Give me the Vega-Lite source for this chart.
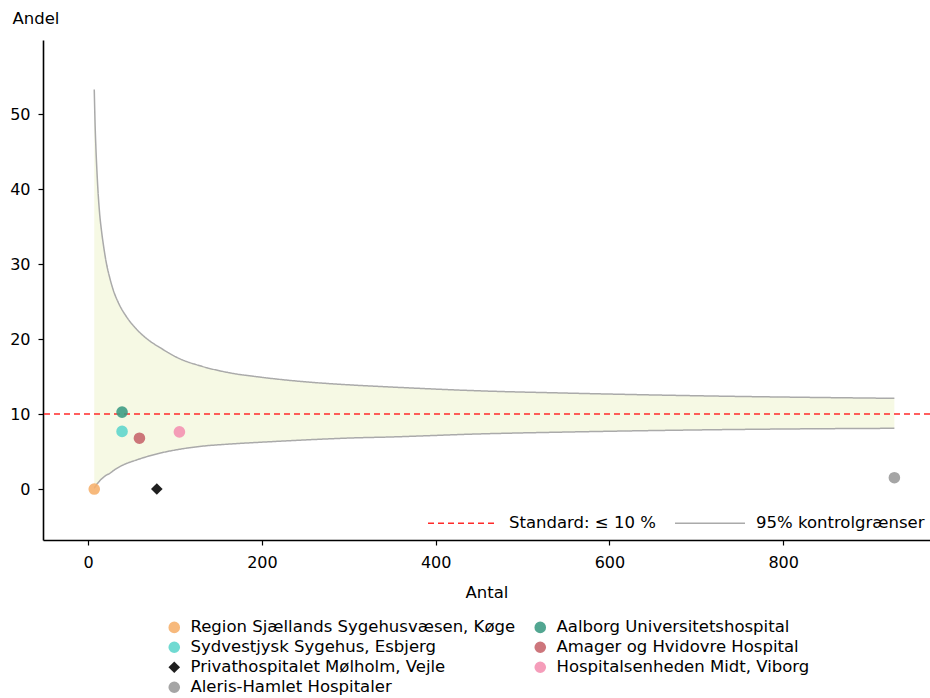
{
  "$schema": "https://vega.github.io/schema/vega-lite/v6.json",
  "width": 887,
  "height": 500,
  "autosize": "none",
  "padding": {"left": 43, "top": 40, "right": 0, "bottom": 158},
  "background": "white",
  "config": {
    "font": "DejaVu Sans",
    "view": {"stroke": null},
    "axis": {
      "grid": false,
      "domainColor": "black",
      "domainWidth": 1.6,
      "tickColor": "black",
      "tickWidth": 1.2,
      "tickSize": 5,
      "labelFont": "DejaVu Sans",
      "labelFontSize": 16,
      "labelColor": "black",
      "titleFont": "DejaVu Sans",
      "titleFontSize": 16.5,
      "titleFontWeight": "normal",
      "titleColor": "black"
    },
    "legend": {
      "labelFont": "DejaVu Sans",
      "labelFontSize": 16.5,
      "labelColor": "black",
      "labelLimit": 500,
      "padding": 0
    }
  },
  "datasets": {
    "sygehuse": [
      {"sygehus": "Region Sjællands Sygehusvæsen, Køge", "antal": 7, "andel": 0},
      {"sygehus": "Aalborg Universitetshospital", "antal": 39, "andel": 10.26},
      {"sygehus": "Sydvestjysk Sygehus, Esbjerg", "antal": 39, "andel": 7.69},
      {"sygehus": "Amager og Hvidovre Hospital", "antal": 59, "andel": 6.78},
      {"sygehus": "Privathospitalet Mølholm, Vejle", "antal": 79, "andel": 0},
      {"sygehus": "Hospitalsenheden Midt, Viborg", "antal": 105, "andel": 7.62},
      {"sygehus": "Aleris-Hamlet Hospitaler", "antal": 928, "andel": 1.51}
    ],
    "tragt": [
      {"antal": 7, "nedre": 0.1, "oevre": 53.3, "kurve": "95% kontrolgrænser"},
      {"antal": 8, "nedre": 0.3, "oevre": 48.5, "kurve": "95% kontrolgrænser"},
      {"antal": 9, "nedre": 0.45, "oevre": 45.2, "kurve": "95% kontrolgrænser"},
      {"antal": 10, "nedre": 0.65, "oevre": 42.6, "kurve": "95% kontrolgrænser"},
      {"antal": 11.5, "nedre": 0.85, "oevre": 39.4, "kurve": "95% kontrolgrænser"},
      {"antal": 13, "nedre": 1.05, "oevre": 37.0, "kurve": "95% kontrolgrænser"},
      {"antal": 15.5, "nedre": 1.35, "oevre": 34.3, "kurve": "95% kontrolgrænser"},
      {"antal": 18, "nedre": 1.6, "oevre": 32.2, "kurve": "95% kontrolgrænser"},
      {"antal": 21, "nedre": 1.85, "oevre": 30.1, "kurve": "95% kontrolgrænser"},
      {"antal": 25, "nedre": 2.1, "oevre": 28.1, "kurve": "95% kontrolgrænser"},
      {"antal": 29, "nedre": 2.45, "oevre": 26.5, "kurve": "95% kontrolgrænser"},
      {"antal": 35, "nedre": 2.9, "oevre": 24.8, "kurve": "95% kontrolgrænser"},
      {"antal": 44, "nedre": 3.4, "oevre": 23.0, "kurve": "95% kontrolgrænser"},
      {"antal": 55, "nedre": 3.85, "oevre": 21.4, "kurve": "95% kontrolgrænser"},
      {"antal": 67, "nedre": 4.3, "oevre": 20.1, "kurve": "95% kontrolgrænser"},
      {"antal": 85, "nedre": 4.85, "oevre": 18.7, "kurve": "95% kontrolgrænser"},
      {"antal": 105, "nedre": 5.3, "oevre": 17.4, "kurve": "95% kontrolgrænser"},
      {"antal": 130, "nedre": 5.7, "oevre": 16.4, "kurve": "95% kontrolgrænser"},
      {"antal": 163, "nedre": 6.0, "oevre": 15.5, "kurve": "95% kontrolgrænser"},
      {"antal": 200, "nedre": 6.25, "oevre": 14.9, "kurve": "95% kontrolgrænser"},
      {"antal": 250, "nedre": 6.55, "oevre": 14.3, "kurve": "95% kontrolgrænser"},
      {"antal": 300, "nedre": 6.8, "oevre": 13.9, "kurve": "95% kontrolgrænser"},
      {"antal": 350, "nedre": 6.95, "oevre": 13.6, "kurve": "95% kontrolgrænser"},
      {"antal": 450, "nedre": 7.35, "oevre": 13.1, "kurve": "95% kontrolgrænser"},
      {"antal": 550, "nedre": 7.6, "oevre": 12.8, "kurve": "95% kontrolgrænser"},
      {"antal": 650, "nedre": 7.8, "oevre": 12.55, "kurve": "95% kontrolgrænser"},
      {"antal": 750, "nedre": 7.95, "oevre": 12.35, "kurve": "95% kontrolgrænser"},
      {"antal": 850, "nedre": 8.05, "oevre": 12.2, "kurve": "95% kontrolgrænser"},
      {"antal": 928, "nedre": 8.1, "oevre": 12.1, "kurve": "95% kontrolgrænser"}
    ],
    "standard": [
      {"kurve": "Standard: ≤ 10 %", "andel": 10}
    ]
  },
  "layer": [
    {
      "data": {"name": "tragt"},
      "mark": {"type": "area", "color": "#f6f9e4", "interpolate": "monotone"},
      "encoding": {
        "x": {
          "field": "antal", "type": "quantitative",
          "scale": {"domain": [-52, 969], "nice": false, "zero": false},
          "axis": {"values": [0, 200, 400, 600, 800], "title": "Antal", "labelPadding": 9, "titleY": 52, "titleBaseline": "middle"}
        },
        "y": {
          "field": "oevre", "type": "quantitative",
          "scale": {"domain": [-6.8, 59.9], "nice": false, "zero": false},
          "axis": {"values": [0, 10, 20, 30, 40, 50], "title": "Andel", "titleAngle": 0, "titleAlign": "left", "titleBaseline": "middle", "titleX": -31, "titleY": -22, "labelPadding": 8}
        },
        "y2": {"field": "nedre"}
      }
    },
    {
      "data": {"name": "tragt"},
      "transform": [{"fold": ["nedre", "oevre"], "as": ["graense", "andel"]}],
      "mark": {"type": "line", "strokeWidth": 1.5, "interpolate": "monotone"},
      "encoding": {
        "x": {"field": "antal", "type": "quantitative"},
        "y": {"field": "andel", "type": "quantitative"},
        "detail": {"field": "graense"},
        "stroke": {
          "field": "kurve", "type": "nominal",
          "scale": {"domain": ["Standard: ≤ 10 %", "95% kontrolgrænser"], "range": ["#ff2a2a", "#aaaaaa"]},
          "legend": {
            "title": null, "orient": "none", "direction": "horizontal",
            "legendX": 384, "legendY": 447,
            "symbolType": "stroke", "symbolSize": 4900, "symbolStrokeWidth": 1.5,
            "labelOffset": 10, "columnPadding": 16
          }
        },
        "strokeDash": {
          "field": "kurve", "type": "nominal",
          "scale": {"domain": ["Standard: ≤ 10 %", "95% kontrolgrænser"], "range": [[6, 4], [1, 0]]},
          "legend": {
            "title": null, "orient": "none", "direction": "horizontal",
            "legendX": 384, "legendY": 447,
            "symbolType": "stroke", "symbolSize": 4900, "symbolStrokeWidth": 1.5,
            "labelOffset": 10, "columnPadding": 16
          }
        }
      }
    },
    {
      "data": {"name": "standard"},
      "mark": {"type": "rule", "strokeWidth": 1.5},
      "encoding": {
        "y": {"field": "andel", "type": "quantitative"},
        "stroke": {"field": "kurve", "type": "nominal"},
        "strokeDash": {"field": "kurve", "type": "nominal"}
      }
    },
    {
      "data": {"name": "sygehuse"},
      "mark": {"type": "point", "filled": true, "opacity": 0.88, "strokeWidth": 0},
      "encoding": {
        "x": {"field": "antal", "type": "quantitative"},
        "y": {"field": "andel", "type": "quantitative"},
        "color": {
          "field": "sygehus", "type": "nominal",
          "scale": {
            "domain": [
              "Region Sjællands Sygehusvæsen, Køge",
              "Sydvestjysk Sygehus, Esbjerg",
              "Privathospitalet Mølholm, Vejle",
              "Aleris-Hamlet Hospitaler",
              "Aalborg Universitetshospital",
              "Amager og Hvidovre Hospital",
              "Hospitalsenheden Midt, Viborg"
            ],
            "range": ["#f6af6a", "#5cd5cc", "#000000", "#999999", "#3a9a82", "#c6636a", "#f48fb1"]
          },
          "legend": {
            "title": null, "orient": "none", "direction": "vertical", "columns": 2,
            "legendX": 123, "legendY": 579,
            "symbolSize": 100, "labelOffset": 8, "rowPadding": 3, "columnPadding": 16
          }
        },
        "shape": {
          "field": "sygehus", "type": "nominal",
          "scale": {
            "domain": [
              "Region Sjællands Sygehusvæsen, Køge",
              "Sydvestjysk Sygehus, Esbjerg",
              "Privathospitalet Mølholm, Vejle",
              "Aleris-Hamlet Hospitaler",
              "Aalborg Universitetshospital",
              "Amager og Hvidovre Hospital",
              "Hospitalsenheden Midt, Viborg"
            ],
            "range": ["circle", "circle", "diamond", "circle", "circle", "circle", "circle"]
          },
          "legend": {
            "title": null, "orient": "none", "direction": "vertical", "columns": 2,
            "legendX": 123, "legendY": 579,
            "symbolSize": 100, "labelOffset": 8, "rowPadding": 3, "columnPadding": 16
          }
        },
        "size": {
          "field": "sygehus", "type": "nominal",
          "scale": {
            "domain": [
              "Region Sjællands Sygehusvæsen, Køge",
              "Sydvestjysk Sygehus, Esbjerg",
              "Privathospitalet Mølholm, Vejle",
              "Aleris-Hamlet Hospitaler",
              "Aalborg Universitetshospital",
              "Amager og Hvidovre Hospital",
              "Hospitalsenheden Midt, Viborg"
            ],
            "range": [135, 135, 270, 135, 135, 135, 135]
          },
          "legend": null
        }
      }
    }
  ]
}
